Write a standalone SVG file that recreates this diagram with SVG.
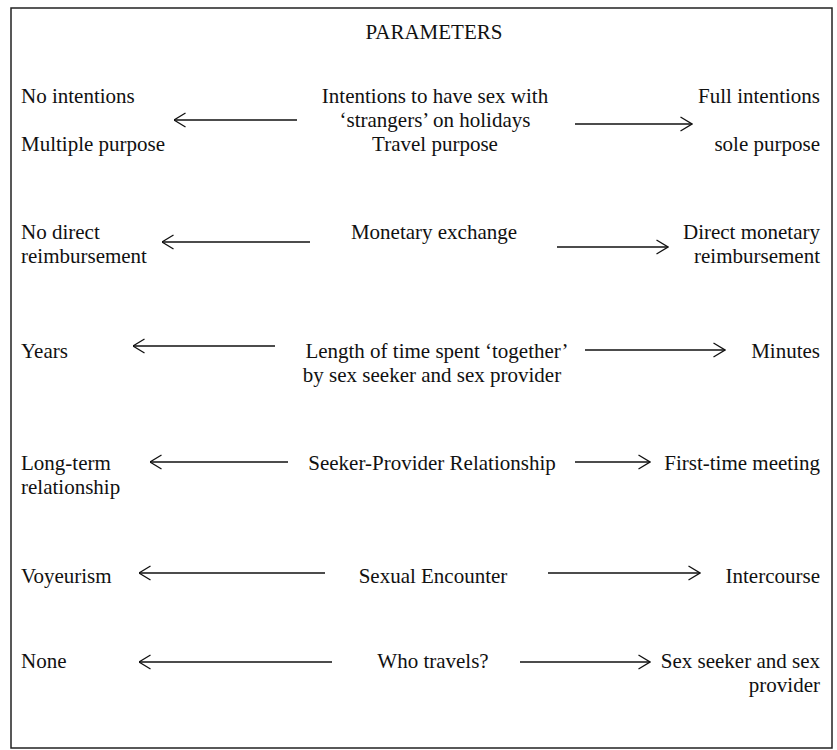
<svg xmlns="http://www.w3.org/2000/svg" width="837" height="750" viewBox="0 0 837 750">
<style>
text{font-family:"Liberation Serif","Times New Roman",serif;font-size:21px;fill:#111}
.l{text-anchor:start}.c{text-anchor:middle}.r{text-anchor:end}
.ar{stroke:#111;stroke-width:1.3;fill:none}
</style>
<defs>
<marker id="h" viewBox="0 0 13 16" refX="12.5" refY="8" markerWidth="13" markerHeight="16" markerUnits="userSpaceOnUse" orient="auto">
<path d="M1,1 L12.5,8 L1,15" fill="none" stroke="#111" stroke-width="1.3"/>
</marker>
</defs>
<rect x="11" y="8" width="821" height="740" fill="#fff" stroke="#222" stroke-width="1.5"/>
<g id="title"><text class="c" x="434" y="39">PARAMETERS</text></g>
<g id="row1">
<text class="l" x="21" y="103">No intentions</text>
<text class="l" x="21" y="151">Multiple purpose</text>
<text class="c" x="435" y="103">Intentions to have sex with</text>
<text class="c" x="435" y="127">‘strangers’ on holidays</text>
<text class="c" x="435" y="151">Travel purpose</text>
<text class="r" x="820" y="103">Full intentions</text>
<text class="r" x="820" y="151">sole purpose</text>
</g>
<g id="row2">
<text class="l" x="21" y="239">No direct</text>
<text class="l" x="21" y="263">reimbursement</text>
<text class="c" x="434" y="239">Monetary exchange</text>
<text class="r" x="820" y="239">Direct monetary</text>
<text class="r" x="820" y="263">reimbursement</text>
</g>
<g id="row3">
<text class="l" x="21" y="358">Years</text>
<text class="c" x="437" y="358">Length of time spent ‘together’</text>
<text class="c" x="432" y="382">by sex seeker and sex provider</text>
<text class="r" x="820" y="358">Minutes</text>
</g>
<g id="row4">
<text class="l" x="21" y="470">Long-term</text>
<text class="l" x="21" y="494">relationship</text>
<text class="c" x="432" y="470">Seeker-Provider Relationship</text>
<text class="r" x="820" y="470">First-time meeting</text>
</g>
<g id="row5">
<text class="l" x="21" y="583">Voyeurism</text>
<text class="c" x="433" y="583">Sexual Encounter</text>
<text class="r" x="820" y="583">Intercourse</text>
</g>
<g id="row6">
<text class="l" x="21" y="668">None</text>
<text class="c" x="433" y="668">Who travels?</text>
<text class="r" x="820" y="668">Sex seeker and sex</text>
<text class="r" x="820" y="692">provider</text>
</g>
<g id="connectors" class="ar">
<line x1="297" y1="120" x2="174" y2="120" marker-end="url(#h)"/>
<line x1="575" y1="124" x2="692" y2="124" marker-end="url(#h)"/>
<line x1="310" y1="242" x2="162" y2="242" marker-end="url(#h)"/>
<line x1="557" y1="247" x2="668" y2="247" marker-end="url(#h)"/>
<line x1="275" y1="346" x2="133" y2="346" marker-end="url(#h)"/>
<line x1="585" y1="350" x2="725" y2="350" marker-end="url(#h)"/>
<line x1="288" y1="462" x2="150" y2="462" marker-end="url(#h)"/>
<line x1="575" y1="462" x2="650" y2="462" marker-end="url(#h)"/>
<line x1="325" y1="573" x2="139" y2="573" marker-end="url(#h)"/>
<line x1="548" y1="573" x2="700" y2="573" marker-end="url(#h)"/>
<line x1="332" y1="662" x2="139" y2="662" marker-end="url(#h)"/>
<line x1="520" y1="662" x2="650" y2="662" marker-end="url(#h)"/>
</g>
</svg>
